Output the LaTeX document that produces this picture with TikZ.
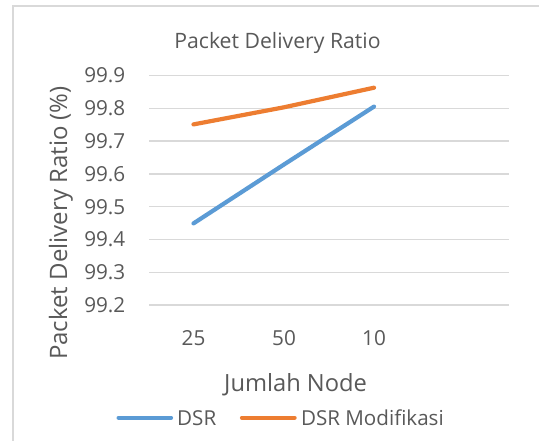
\documentclass[tikz,border=0pt]{standalone}
\usepackage{fontspec}
\setmainfont{Open Sans}
\definecolor{txtgray}{HTML}{595959}
\definecolor{gridgray}{HTML}{D9D9D9}
\definecolor{dsrblue}{HTML}{5B9BD5}
\definecolor{dsrorange}{HTML}{ED7D31}
\tikzset{
  ticklbl/.style={text=txtgray, font=\fontsize{20.7}{22}\selectfont, inner sep=0pt},
  axtitle/.style={text=txtgray, font=\fontsize{23.7}{25}\selectfont, inner sep=0pt},
  series/.style={line width=4.2pt, line cap=round, line join=round},
  gridline/.style={gridgray, line width=1.3pt}
}
\begin{document}
\begin{tikzpicture}[x=1pt, y=-1pt]
  \useasboundingbox (0,0) rectangle (539,441);
  \fill[white] (0,0) rectangle (539,441);
  % chart frame
  \draw[gridgray, line width=1.3pt] (13,445) -- (13,6) -- (545,6);
  % title
  \node[axtitle, font=\fontsize{21.2}{23}\selectfont] (title) at (277.5,43) {Packet Delivery Ratio};
  % horizontal gridlines and value labels
  \foreach \v [count=\i from 0] in {99.9,99.8,99.7,99.6,99.5,99.4,99.3,99.2} {
    \pgfmathsetmacro{\yy}{75.6+\i*32.77}
    \draw[gridline] (149,\yy) -- (509,\yy);
    \node[ticklbl, anchor=east] (yl\i) at (125.5,\yy) {\v};
  }
  % category labels
  \node[ticklbl] (c1) at (193.5,338.5) {25};
  \node[ticklbl] (c2) at (284,338.5) {50};
  \node[ticklbl] (c3) at (374,338.5) {10};
  % axis titles
  \node[axtitle, font=\fontsize{24}{26}\selectfont, rotate=90] (ytitle) at (61,223) {Packet Delivery Ratio (\%)};
  \node[axtitle] (xtitle) at (295.6,385) {Jumlah Node};
  % data points
  \coordinate (a1) at (193.5,223.4);
  \coordinate (a2) at (284,164.5);
  \coordinate (a3) at (374,106.6);
  \coordinate (b1) at (193.5,124.4);
  \coordinate (b2) at (284,107.3);
  \coordinate (b3) at (374,87.7);
  \draw[series, dsrblue] (a1) -- (a2) -- (a3);
  \draw[series, dsrorange] (b1) -- (b2) -- (b3);
  % legend
  \coordinate (la0) at (118.6,417.7);
  \coordinate (la1) at (171,417.7);
  \coordinate (lb0) at (242,417.7);
  \coordinate (lb1) at (294.6,417.7);
  \draw[series, dsrblue] (la0) -- (la1);
  \draw[series, dsrorange] (lb0) -- (lb1);
  \node[ticklbl, font=\fontsize{20.6}{22}\selectfont, anchor=west] (lega) at (177,417.7) {DSR};
  \node[ticklbl, font=\fontsize{20.6}{22}\selectfont, anchor=west] (legb) at (300.8,417.7) {DSR Modifikasi};
\end{tikzpicture}
\end{document}
